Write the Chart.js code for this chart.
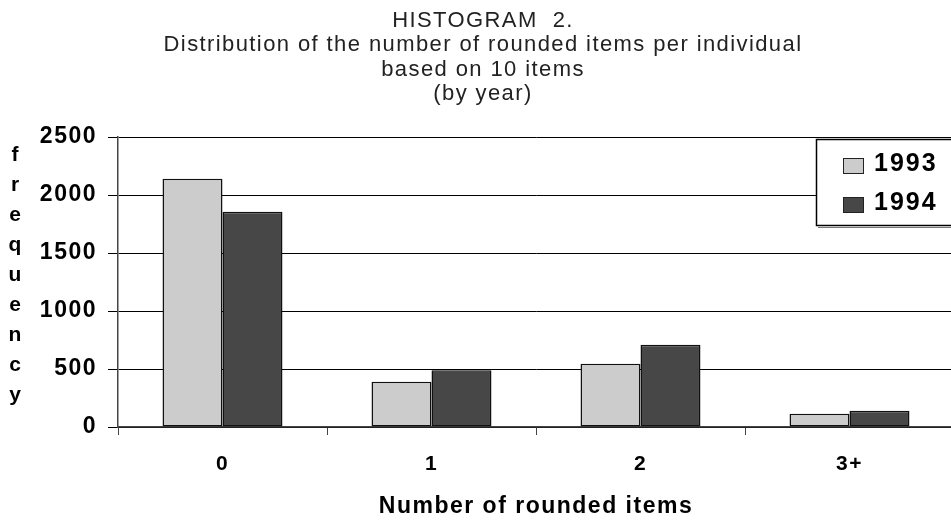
<!DOCTYPE html>
<html>
<head>
<meta charset="utf-8">
<title>Histogram 2</title>
<script src="https://cdn.jsdelivr.net/npm/chart.js@4.4.1/dist/chart.umd.min.js"></script>
<style>
  html, body { margin: 0; padding: 0; background: #fff; overflow: hidden; }
  #wrap { width: 951px; height: 521px; overflow: hidden; }
  canvas { display: block; }
</style>
</head>
<body>
<div id="wrap"><canvas id="c" width="966" height="521"></canvas></div>
<script>
// Number of rounded items per individual (out of 10 items), by year
const categories = ['0', '1', '2', '3+'];
const year1993 = [2140, 390, 545, 115];
const year1994 = [1855, 490, 710, 140];
const seriesLabels = ['1993', '1994'];
const yTicks = [0, 500, 1000, 1500, 2000, 2500];

const titleLines = [
  'HISTOGRAM  2.',
  'Distribution of the number of rounded items per individual',
  'based on 10 items',
  '(by year)'
];
const yAxisTitle = 'frequency';
const xAxisTitle = 'Number of rounded items';

const FONT = '"Liberation Sans", Arial, Helvetica, sans-serif';

// slightly tracked lettering for the axis texts drawn by the scales
const tracking = {
  id: 'tracking',
  beforeDraw(chart) { chart.ctx.letterSpacing = '1.5px'; }
};

// four-line heading centred over the page
const heading = {
  id: 'heading',
  afterDraw(chart) {
    const ctx = chart.ctx;
    ctx.save();
    ctx.letterSpacing = '1.4px';
    ctx.font = '22px ' + FONT;
    ctx.fillStyle = '#222';
    ctx.textAlign = 'center';
    ctx.textBaseline = 'middle';
    const cx = chart.width / 2;
    titleLines.forEach((line, i) => {
      ctx.fillText(line, cx, 21 + i * 24.4);
    });
    ctx.restore();
  }
};

// y-axis title written as a column of letters down the left side
const stackedYTitle = {
  id: 'stackedYTitle',
  afterDraw(chart) {
    const ctx = chart.ctx;
    ctx.save();
    ctx.letterSpacing = '0px';
    ctx.font = 'bold 21px ' + FONT;
    ctx.fillStyle = '#000';
    ctx.textAlign = 'center';
    ctx.textBaseline = 'middle';
    yAxisTitle.split('').forEach((ch, i) => {
      ctx.fillText(ch, 15, 155 + i * 30);
    });
    ctx.restore();
  }
};

// boxed legend in the upper-right corner of the plot
const boxLegend = {
  id: 'boxLegend',
  afterDraw(chart) {
    const ctx = chart.ctx;
    const left = 816, top = 139, bottom = 225;
    const right = chart.chartArea.right + 20;
    ctx.save();
    ctx.fillStyle = '#fff';
    ctx.fillRect(left, top, right - left, bottom - top);
    ctx.strokeStyle = '#000';
    ctx.lineWidth = 1.5;
    ctx.strokeRect(left + 0.5, top + 0.5, right - left, bottom - top);
    ctx.strokeStyle = '#777';
    ctx.lineWidth = 1;
    ctx.beginPath();
    ctx.moveTo(left + 2, bottom + 2.5);
    ctx.lineTo(right, bottom + 2.5);
    ctx.stroke();
    ctx.letterSpacing = '2px';
    ctx.font = 'bold 25px ' + FONT;
    ctx.textAlign = 'left';
    ctx.textBaseline = 'alphabetic';
    chart.data.datasets.forEach((ds, i) => {
      const cy = 165.5 + i * 39;
      ctx.fillStyle = ds.backgroundColor;
      ctx.fillRect(843, cy - 7.5, 20, 15);
      ctx.strokeStyle = '#222';
      ctx.lineWidth = 1;
      ctx.strokeRect(843.5, cy - 7, 20, 15);
      ctx.fillStyle = '#000';
      ctx.fillText(ds.label, 874, cy + 5);
    });
    ctx.restore();
  }
};

new Chart(document.getElementById('c'), {
  type: 'bar',
  data: {
    labels: categories,
    datasets: [
      {
        label: seriesLabels[0],
        data: year1993,
        backgroundColor: '#cccccc',
        borderColor: '#111',
        borderWidth: 1.5,
        borderSkipped: false,
        categoryPercentage: 0.574,
        barPercentage: 1.0
      },
      {
        label: seriesLabels[1],
        data: year1994,
        backgroundColor: '#474747',
        borderColor: '#111',
        borderWidth: 1.5,
        borderSkipped: false,
        categoryPercentage: 0.574,
        barPercentage: 1.0
      }
    ]
  },
  options: {
    responsive: false,
    animation: false,
    devicePixelRatio: 1,
    layout: { padding: { left: 0, right: 12, top: 137, bottom: 0 } },
    plugins: {
      legend: { display: false },
      tooltip: { enabled: false },
      title: { display: false }
    },
    scales: {
      x: {
        afterFit(s) { s.height = 94; },
        grid: {
          display: true,
          offset: true,
          drawOnChartArea: false,
          drawTicks: true,
          tickLength: 8,
          color: '#444',
          lineWidth: 1
        },
        border: { display: true, color: '#444', width: 1.5 },
        ticks: {
          color: '#000',
          padding: 17,
          font: { family: FONT, size: 21, weight: 'bold' }
        },
        title: {
          display: true,
          text: xAxisTitle,
          color: '#000',
          font: { family: FONT, size: 23, weight: 'bold', lineHeight: 1.2 },
          padding: { top: 0, bottom: 1 }
        }
      },
      y: {
        min: yTicks[0],
        max: yTicks[yTicks.length - 1],
        afterFit(s) { s.width = 118; },
        afterBuildTicks(s) { s.ticks = yTicks.map(v => ({ value: v })); },
        grid: {
          color: '#000',
          lineWidth: 1,
          drawTicks: true,
          tickLength: 10
        },
        border: { display: true, color: '#444', width: 1.5 },
        ticks: {
          color: '#000',
          padding: 11,
          callback: v => String(v),
          font: { family: FONT, size: 23, weight: 'bold' }
        }
      }
    }
  },
  plugins: [tracking, heading, stackedYTitle, boxLegend]
});
</script>
</body>
</html>
